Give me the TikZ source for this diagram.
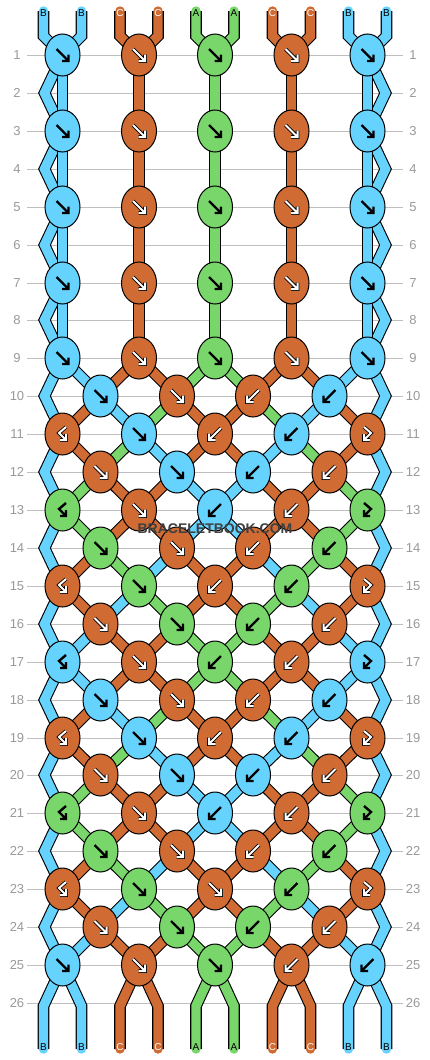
\documentclass[tikz,border=0pt]{standalone}
\usepackage{fontspec}
\setmainfont{Liberation Sans}
\usetikzlibrary{shapes.geometric}
\definecolor{strA}{HTML}{79D66B}
\definecolor{strB}{HTML}{66D3FF}
\definecolor{strC}{HTML}{D06B34}
\colorlet{txtA}{black}
\colorlet{txtB}{black}
\colorlet{txtC}{white}
\definecolor{rowgray}{HTML}{999999}
\pgfdeclarelayer{grid}
\pgfdeclarelayer{threads}
\pgfsetlayers{grid,threads,main}
\newcommand\unbrace[1]{#1}

\begin{document}
\begin{tikzpicture}[x=1pt,y=-1pt,
    knot/.style={ellipse,draw=black,line width=1,minimum width=35,minimum height=42,inner sep=0},
    thread/.style={draw=#1,line width=9.4,preaction={draw=black,line width=11.6}},
    arrowA/.style={draw=black,line width=2.4},
    arrowB/.style={draw=black,line width=2.4},
    arrowC/.style={draw=black,line width=0.8,double=white,double distance=2},
    fwd/.style={insert path={++(-6,-6) -- ++(12,12) ++(0,-6.5) -- ++(0,6.5) -- ++(-6.5,0)}},
    bwd/.style={insert path={++(6,-6) -- ++(-12,12) ++(0,-6.5) -- ++(0,6.5) -- ++(6.5,0)}},
    hkl/.style={insert path={++(3.5,-7) -- ++(-7,6) -- ++(7,7) ++(0,-6) -- ++(0,6) -- ++(-6,0)}},
    hkr/.style={insert path={++(-3.5,-7) -- ++(7,6) -- ++(-7,7) ++(0,-6) -- ++(0,6) -- ++(6,0)}},
    rownum/.style={text=rowgray,font=\fontsize{13}{13}\selectfont,inner sep=0},
    endlabel/.style={font=\fontsize{10}{10}\selectfont,inner sep=0}]
  \useasboundingbox (0,0) rectangle (430,1060);
  % Zeilennummern und Hilfslinien
  \foreach \rw in {1,...,26}
  {
    \pgfmathsetmacro\y{round(55+37.92*(\rw-1))}
    \node[rownum] (ln\rw) at (17,\y) {\rw};
    \node[rownum] (rn\rw) at (413,\y) {\rw};
    \begin{pgfonlayer}{grid}
      \draw[black!25,line width=1] (27,\y) -- (403,\y);
    \end{pgfonlayer}
  }
  % Knoten
  \foreach \rw/\knots in
  {
    1/{B/fwd,C/fwd,A/fwd,C/fwd,B/fwd},
    3/{B/fwd,C/fwd,A/fwd,C/fwd,B/fwd},
    5/{B/fwd,C/fwd,A/fwd,C/fwd,B/fwd},
    7/{B/fwd,C/fwd,A/fwd,C/fwd,B/fwd},
    9/{B/fwd,C/fwd,A/fwd,C/fwd,B/fwd},
    10/{B/fwd,C/fwd,C/bwd,B/bwd},
    11/{C/hkl,B/fwd,C/bwd,B/bwd,C/hkr},
    12/{C/fwd,B/fwd,B/bwd,C/bwd},
    13/{A/hkl,C/fwd,B/bwd,C/bwd,A/hkr},
    14/{A/fwd,C/fwd,C/bwd,A/bwd},
    15/{C/hkl,A/fwd,C/bwd,A/bwd,C/hkr},
    16/{C/fwd,A/fwd,A/bwd,C/bwd},
    17/{B/hkl,C/fwd,A/bwd,C/bwd,B/hkr},
    18/{B/fwd,C/fwd,C/bwd,B/bwd},
    19/{C/hkl,B/fwd,C/bwd,B/bwd,C/hkr},
    20/{C/fwd,B/fwd,B/bwd,C/bwd},
    21/{A/hkl,C/fwd,B/bwd,C/bwd,A/hkr},
    22/{A/fwd,C/fwd,C/bwd,A/bwd},
    23/{C/hkl,A/fwd,C/fwd,A/bwd,C/hkr},
    24/{C/fwd,A/fwd,A/bwd,C/bwd},
    25/{B/fwd,C/fwd,A/fwd,C/bwd,B/bwd}}
  {
    \pgfmathsetmacro\y{round(55+37.92*(\rw-1))}
    \edef\klist{\expandafter\unbrace\knots}
    \foreach \col/\typ [count=\k from 0] in \klist
    {
      \ifodd\rw\relax
        \pgfmathsetmacro\x{round(2*(62.5+76.25*\k))/2}
      \else
        \pgfmathsetmacro\x{round(2*(100.625+76.25*\k))/2}
      \fi
      \node[knot,fill=str\col] (k\rw-\k) at (\x,\y) {};
      \draw[arrow\col] (k\rw-\k.center) [\typ];
    }
  }
  \begin{pgfonlayer}{threads}
    % Randfaeden im Zickzack
    \foreach \rw in {1,3,...,23}
    {
      \pgfmathtruncatemacro\nx{\rw+1}
      \pgfmathtruncatemacro\nn{\rw+2}
      \pgfmathsetmacro\y{round(55+37.92*\rw)}
      \coordinate (zl\nx) at (44.5,\y);
      \coordinate (zr\nx) at (385.5,\y);
      \draw[thread=strB] (k\rw-0.center) -- (zl\nx) -- (k\nn-0.center);
      \draw[thread=strB] (k\rw-4.center) -- (zr\nx) -- (k\nn-4.center);
    }
    % gerade Stuecke oben
    \foreach \rw in {1,3,5,7}
    {
      \pgfmathtruncatemacro\nn{\rw+2}
      \foreach \col [count=\k from 0] in {B,C,A,C,B}
        \draw[thread=str\col] (k\rw-\k.center) -- (k\nn-\k.center);
    }
    % schraege Stuecke
    \foreach \rw/\s in
    {
      9/{B,B,C,C,A,A,C,C,B,B},
      10/{B,C,B,A,C,C,A,B,C,B},
      11/{B,C,A,B,C,C,B,A,C,B},
      12/{B,A,C,C,B,B,C,C,A,B},
      13/{B,A,C,C,B,B,C,C,A,B},
      14/{B,C,A,B,C,C,B,A,C,B},
      15/{B,C,B,A,C,C,A,B,C,B},
      16/{B,B,C,C,A,A,C,C,B,B},
      17/{B,B,C,C,A,A,C,C,B,B},
      18/{B,C,B,A,C,C,A,B,C,B},
      19/{B,C,A,B,C,C,B,A,C,B},
      20/{B,A,C,C,B,B,C,C,A,B},
      21/{B,A,C,C,B,B,C,C,A,B},
      22/{B,C,A,B,C,C,B,A,C,B},
      23/{B,C,B,A,C,C,A,B,C,B},
      24/{B,B,C,C,A,A,C,C,B,B}}
    {
      \pgfmathtruncatemacro\nx{\rw+1}
      \edef\slist{\expandafter\unbrace\s}
      \foreach \col [count=\p from 0] in \slist
      {
        \ifnum\p>0 \ifnum\p<9
          \ifodd\rw\relax
            \pgfmathtruncatemacro\ia{\p/2}
            \pgfmathtruncatemacro\ib{(\p-1)/2}
          \else
            \pgfmathtruncatemacro\ia{(\p-1)/2}
            \pgfmathtruncatemacro\ib{\p/2}
          \fi
          \draw[thread=str\col] (k\rw-\ia.center) -- (k\nx-\ib.center);
        \fi\fi
      }
    }
  \end{pgfonlayer}
  % Fadenenden oben und unten
  \foreach \col [count=\k from 0] in {B,C,A,C,B}
  {
    \pgfmathsetmacro\x{round(2*(62.5+76.25*\k))/2}
    \coordinate (tl\k) at (\x-19,11);
    \coordinate (tlb\k) at (\x-19,36);
    \coordinate (tr\k) at (\x+19,11);
    \coordinate (trb\k) at (\x+19,36);
    \coordinate (bl\k) at (\x-19,1049);
    \coordinate (blb\k) at (\x-19,1006);
    \coordinate (br\k) at (\x+19,1049);
    \coordinate (brb\k) at (\x+19,1006);
    \begin{pgfonlayer}{threads}
      \draw[thread=str\col,line cap=round] (tl\k) -- (tlb\k) -- (k1-\k.center);
      \draw[thread=str\col,line cap=round] (tr\k) -- (trb\k) -- (k1-\k.center);
      \draw[thread=str\col,line cap=round] (bl\k) -- (blb\k) -- (k25-\k.center);
      \draw[thread=str\col,line cap=round] (br\k) -- (brb\k) -- (k25-\k.center);
    \end{pgfonlayer}
    \node[endlabel,text=txt\col] (ltl\k) at (\x-19,13) {\col};
    \node[endlabel,text=txt\col] (ltr\k) at (\x+19,13) {\col};
    \node[endlabel,text=txt\col] (lbl\k) at (\x-19,1047.5) {\col};
    \node[endlabel,text=txt\col] (lbr\k) at (\x+19,1047.5) {\col};
  }
  \node[text=black!75,font=\bfseries\fontsize{14}{14}\selectfont] (wm) at (215,529) {BRACELETBOOK.COM};
\end{tikzpicture}
\end{document}
